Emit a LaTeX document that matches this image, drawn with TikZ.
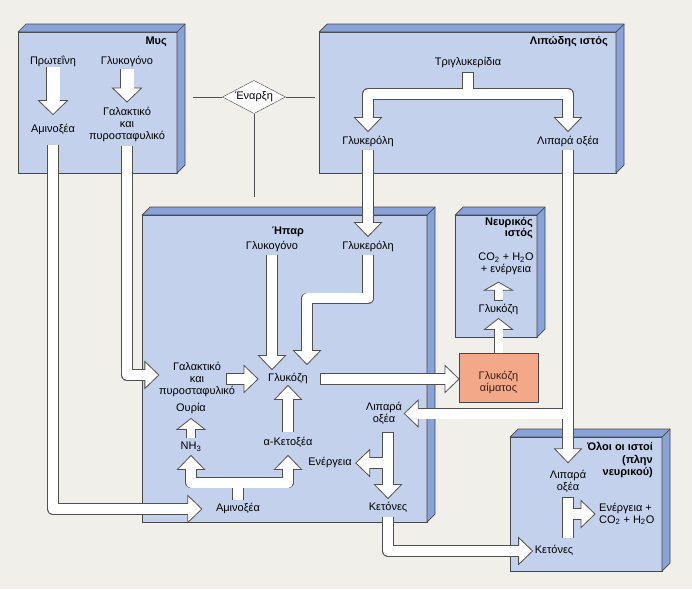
\documentclass[tikz,border=0pt]{standalone}
\usepackage{fontspec}
\setmainfont{Liberation Sans}
\usetikzlibrary{decorations.markings,shapes.geometric}

\definecolor{paper}{RGB}{241,239,234}
\definecolor{front}{RGB}{195,209,237}
\definecolor{side}{RGB}{137,162,216}
\definecolor{boxline}{RGB}{70,70,70}
\definecolor{edgegray}{RGB}{80,80,80}
\definecolor{bloodfill}{RGB}{242,168,137}
\definecolor{bloodtext}{RGB}{60,30,20}

\tikzstyle{tissue}=[draw=boxline, fill=front, line width=0.7pt,
                    inner sep=0pt, outer sep=0pt]
\tikzstyle{lbl}=[font=\fontsize{11}{12}\selectfont, inner sep=0pt,
                 text height=8pt, text depth=2.5pt]
\tikzstyle{lbls}=[font=\fontsize{11}{12}\selectfont, inner sep=0pt, align=center]
\tikzstyle{ttl}=[font=\fontsize{11}{12.5}\selectfont\bfseries, inner sep=0pt,
                 align=right]
\tikzstyle{startnode}=[diamond, draw=boxline, fill=white, aspect=1.9,
                       inner sep=1pt, minimum width=63pt, minimum height=33pt,
                       font=\fontsize{11}{12}\selectfont]
\tikzstyle{guide}=[draw=edgegray, line width=0.7pt]

\tikzset{
  pipeedge/.style n args={3}{draw=edgegray, line width=#1+1.6pt, line join=round,
    shorten >=#3-1pt, shorten <=-0.8pt},
  pipehead/.style 2 args={decoration={markings, mark=at position 1 with {
      \filldraw[draw=edgegray, fill=white, line width=0.8pt, line join=miter]
        (0pt,0pt) -- (-#2,#1/2) -- (-#2,-#1/2) -- cycle;}}, decorate},
  pipefill/.style n args={3}{draw=white, line width=#1, line join=round,
    shorten >=#3-2pt, shorten <=0pt},
  pipe/.style n args={3}{pipefill={#1}{#2}{#3},
    preaction={pipeedge={#1}{#2}{#3}}, preaction={pipehead={#2}{#3}}},
  flowedge/.style={pipeedge={10pt}{27pt}{14pt}, postaction={pipehead={27pt}{14pt}}},
  flowfill/.style={pipefill={10pt}{27pt}{14pt}},
  baredge/.style={pipeedge={10pt}{27pt}{14pt}, shorten >=-0.8pt},
  barfill/.style={flowfill, shorten >=0pt},
  flow/.style={pipe={10pt}{27pt}{14pt}},
  bigflow/.style={pipe={13pt}{29pt}{14pt}},
  smallflow/.style={pipe={8pt}{28pt}{11pt}},
  tinyflow/.style={pipe={8pt}{28pt}{8pt}},
}

\begin{document}
\begin{tikzpicture}[x=1pt, y=-1pt]
  \useasboundingbox (0,0) rectangle (692,589);
  \fill[paper] (0,0) rectangle (692,589);

  \node (musbox)  at (97.5,102.5)  [tissue, minimum width=159pt, minimum height=141pt]{};
  \node (lipbox)  at (467.5,102.5) [tissue, minimum width=297pt, minimum height=141pt]{};
  \node (hparbox) at (284.5,368.5) [tissue, minimum width=285pt, minimum height=307pt]{};
  \node (neurbox) at (496,276)     [tissue, minimum width=82pt,  minimum height=122pt]{};
  \node (allbox)  at (586,504)     [tissue, minimum width=152pt, minimum height=134pt]{};
  \foreach \b in {musbox,lipbox,hparbox,neurbox,allbox} {
    \filldraw[draw=boxline, fill=side, line width=0.7pt, line join=round]
      (\b.north west) -- ([shift={(8pt,8pt)}]\b.north west)
      -- ([shift={(8pt,8pt)}]\b.north east) -- ([shift={(8pt,8pt)}]\b.south east)
      -- (\b.south east) -- (\b.north east) -- cycle;
    \draw[boxline, line width=0.7pt] (\b.north east) -- ([shift={(8pt,8pt)}]\b.north east);
  }
  \node (blood) at (498.5,377.5) [tissue, fill=bloodfill,
                                  minimum width=79pt, minimum height=49pt]{};

  \node (onset) at (254,97) [startnode] {Έναρξη};
  \coordinate (onsetl) at (193,97);
  \coordinate (onsetr) at (315,97);
  \coordinate (onsetb) at (254,197);
  \foreach \v in {onsetl,onsetr,onsetb}
    \draw [guide] (onset) -- (\v);

  \node (mustitle)  at (167,42)   [ttl, anchor=east] {Μυς};
  \node (liptitle)  at (608,42)   [ttl, anchor=east] {Λιπώδης ιστός};
  \node (hpartitle) at (288,232)  [ttl] {Ήπαρ};
  \node (neurtitle) at (533,228)  [ttl, anchor=east,
                                   font=\fontsize{11}{11}\selectfont\bfseries] {Νευρικός\\ιστός};
  \node (alltitle)  at (653,460.5)[ttl, anchor=east] {Όλοι οι ιστοί\\(πλην\\νευρικού)};

  \node (prot)    at (53,62)    [lbl] {Πρωτεΐνη};
  \node (mglyc)   at (127,62)   [lbl] {Γλυκογόνο};
  \node (mamino)  at (53,130)   [lbl] {Αμινοξέα};
  \node (mlact)   at (127,124)  [lbls] {Γαλακτικό\\και\\πυροσταφυλικό};
  \node (trig)    at (468,63)   [lbl] {Τριγλυκερίδια};
  \node (aglyc)   at (368,142)  [lbl] {Γλυκερόλη};
  \node (afat)    at (568,142)  [lbl] {Λιπαρά οξέα};
  \node (lglycog) at (272,247)  [lbl] {Γλυκογόνο};
  \node (lglyc)   at (368,247)  [lbl] {Γλυκερόλη};
  \node (llact)   at (197,379)  [lbls] {Γαλακτικό\\και\\πυροσταφυλικό};
  \node (glc)     at (288,379)  [lbl] {Γλυκόζη};
  \node (urea)    at (191,409)  [lbl] {Ουρία};
  \node (nh3)     at (191,447)  [lbl] {NH\textsubscript{3}};
  \node (keto)    at (288,443)  [lbl] {α-Κετοξέα};
  \node (lamino)  at (238,509)  [lbl] {Αμινοξέα};
  \node (lfat)    at (384,413.5)[lbls] {Λιπαρά\\οξέα};
  \node (energy)  at (330,463)  [lbl] {Ενέργεια};
  \node (keton)   at (388,508)  [lbl] {Κετόνες};
  \node (co2)     at (506,264)  [lbls] {CO\textsubscript{2} + H\textsubscript{2}O\\+ ενέργεια};
  \node (nglc)    at (498.5,310)[lbl] {Γλυκόζη};
  \node (bloodtxt) at (498.5,382.5) [lbls, text=bloodtext] {Γλυκόζη\\αίματος};
  \node (tfat)    at (568,481)  [lbls] {Λιπαρά\\οξέα};
  \node (tenergy) at (599,514)  [lbls, align=left, anchor=west]
                                {Ενέργεια +\\CO\textsubscript{2} + H\textsubscript{2}O};
  \node (tket)    at (554,551)  [lbl] {Κετόνες};

  \draw [bigflow] (prot.south) -- ([yshift=10pt]mamino.north);
  \draw [bigflow] ([yshift=-2pt]mglyc.south) -- ([yshift=4.5pt]mlact.north);
  \draw [flow] ([yshift=-10pt]mamino.south) |- ([xshift=-14pt]lamino.west);
  \draw [flow] ([yshift=-5pt]mlact.south) |- ([yshift=4pt]llact.west);

  \coordinate (trigfork) at ([yshift=-25.5pt]trig.south);
  \foreach \pass in {flowedge,flowfill} {
    \draw [\pass] ([yshift=-4.5pt]trig.south) -- (trigfork) -| ([yshift=5pt]aglyc.north);
    \draw [\pass] (trigfork) -| ([yshift=5pt]afat.north);
  }
  \draw [flow] ([yshift=-3pt]aglyc.south) -- ([yshift=5pt]lglyc.north);
  \foreach \pass in {flowedge,flowfill} {
    \draw [\pass] ([yshift=-3pt]afat.south) -- ([yshift=7pt]tfat.north);
    \draw [\pass] (afat |- lfat.east) -- ([xshift=2pt]lfat.east);
  }

  \draw [flow] ([yshift=-3pt]lglycog.south) -- ([xshift=-16pt,yshift=4pt]glc.north);
  \draw [flow] ([yshift=-3pt]lglyc.south) -- ++(0,43) -| ([xshift=19pt,yshift=9pt]glc.north);
  \draw [flow] ([xshift=30pt]llact.center) -- ([xshift=-10pt]glc.west);
  \draw [flow] ([xshift=13pt]glc.east) -- (blood.west |- glc.east);
  \draw [flow] ([yshift=6pt]keto.north) -- ([yshift=-1pt]glc.south);
  \draw [smallflow] ([yshift=4pt]nh3.north) -- ([yshift=-4pt]urea.south);

  \coordinate (aminofork) at ([yshift=21pt]lamino.north);
  \foreach \pass in {flowedge,flowfill} {
    \draw [\pass] ([yshift=4pt]lamino.north) -- (aminofork) -| ([yshift=-3pt]nh3.south);
    \draw [\pass] (aminofork) -| ([yshift=-7pt]keto.south);
  }
  \foreach \pass in {flowedge,flowfill} {
    \draw [\pass] ([yshift=-8pt]lfat.south -| keton) -- ([yshift=4pt]keton.north);
    \draw [\pass] (keton |- energy.east) -- ([xshift=4pt]energy.east);
  }
  \draw [flow] ([yshift=-4pt]keton.south) |- ([xshift=-2pt]tket.west);

  \draw [smallflow] (blood.north) -- ([yshift=-3pt]nglc.south);
  \draw [tinyflow] ([yshift=4.5pt]nglc.north) -- ([yshift=-7pt]co2.south -| nglc);

  \foreach \pass/\bar in {flowedge/baredge,flowfill/barfill} {
    \draw [\pass] (tfat |- tenergy.west) -- ([xshift=-4pt]tenergy.west);
    \draw [\bar] ([yshift=-5.5pt]tfat.south) -- ([yshift=8pt]tket.north -| tfat);
  }
\end{tikzpicture}
\end{document}
